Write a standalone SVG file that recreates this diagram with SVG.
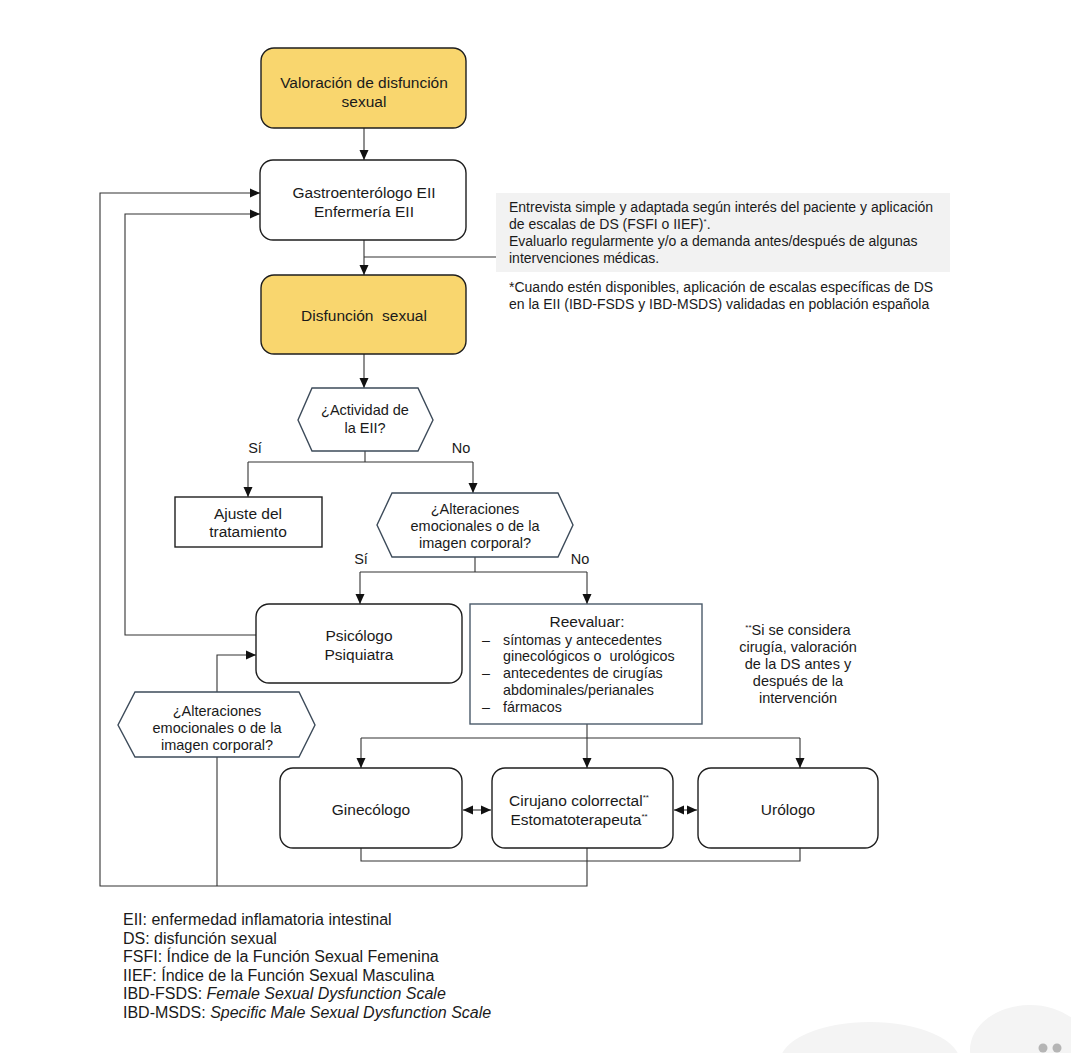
<svg xmlns="http://www.w3.org/2000/svg" width="1071" height="1053" viewBox="0 0 1071 1053">
<style>
text{font-family:"Liberation Sans",Arial,sans-serif;fill:#1a1a1a;white-space:pre;}
.t{font-size:15.5px;text-anchor:middle;}
.s{font-size:14px;}
.q{font-size:14.5px;text-anchor:middle;}
.r{font-size:14.3px;}
.lg{font-size:16px;}
.box{fill:#fff;stroke:#1e1e1e;stroke-width:1.4;}
.yel{fill:#f9d66e;stroke:#1e1e1e;stroke-width:1.4;}
.hex{fill:#fff;stroke:#3d4b5a;stroke-width:1.4;}
.con{fill:none;stroke:#333;stroke-width:1.1;}
.arr{marker-end:url(#ah);}
.dbl{marker-start:url(#ah);marker-end:url(#ah);}
</style>
<defs>
<marker id="ah" markerUnits="userSpaceOnUse" markerWidth="10" markerHeight="10" refX="10" refY="5" orient="auto-start-reverse">
<path d="M0,0.5 L10,5 L0,9.5 z" fill="#111"/>
</marker>
</defs>
<rect width="1071" height="1053" fill="#fff"/>
<g id="bg-deco" fill="#f4f4f4">
<ellipse cx="870" cy="1062" rx="90" ry="40"/>
<ellipse cx="1030" cy="1050" rx="60" ry="45"/>
<circle cx="1043" cy="1048" r="4.5" fill="#b5b5b5"/>
<circle cx="1057" cy="1048" r="4.5" fill="#b5b5b5"/>
</g>
<g id="connectors">
<path class="con arr" d="M364,128 V160"/>
<path class="con arr" d="M364,240 V275"/>
<path class="con" d="M496,257 H364"/>
<path class="con arr" d="M364,354 V388"/>
<path class="con" d="M365,451 V462 M248,462 H473"/>
<path class="con arr" d="M248,462 V497"/>
<path class="con arr" d="M473,462 V493"/>
<path class="con" d="M475,557 V572 M360,572 H587"/>
<path class="con arr" d="M360,572 V604"/>
<path class="con arr" d="M587,572 V604"/>
<path class="con" d="M587,724 V738 M361,738 H800"/>
<path class="con arr" d="M361,738 V768"/>
<path class="con arr" d="M587,738 V768"/>
<path class="con arr" d="M800,738 V768"/>
<path class="con dbl" d="M463,810 H491"/>
<path class="con dbl" d="M674,810 H697"/>
<path class="con" d="M361,848 V861 H800 V848"/>
<path class="con arr" d="M587,848 V886 H100 V193 H260"/>
<path class="con arr" d="M256,635 H125 V214 H260"/>
<path class="con arr" d="M217,692 V655 H256"/>
<path class="con" d="M217,757 V886"/>
</g>
<g id="n-valoracion">
<rect class="yel" x="261" y="48" width="205" height="80" rx="13"/>
<text class="t" x="364" y="88">Valoración de disfunción</text>
<text class="t" x="364" y="107">sexual</text>
</g>
<g id="n-gastro">
<rect class="box" x="260" y="160" width="206" height="80" rx="13"/>
<text class="t" x="364" y="198">Gastroenterólogo EII</text>
<text class="t" x="364" y="217">Enfermería EII</text>
</g>
<g id="n-note">
<rect x="496" y="193" width="454" height="79" fill="#f2f2f2"/>
<text class="s" x="509" y="212">Entrevista simple y adaptada según interés del paciente y aplicación</text>
<text class="s" x="509" y="229">de escalas de DS (FSFI o IIEF)<tspan font-size="8" dy="-5">*</tspan><tspan dy="5">.</tspan></text>
<text class="s" x="509" y="246">Evaluarlo regularmente y/o a demanda antes/después de algunas</text>
<text class="s" x="509" y="263">intervenciones médicas.</text>
<text class="s" x="509" y="292">*Cuando estén disponibles, aplicación de escalas específicas de DS</text>
<text class="s" x="509" y="309">en la EII (IBD-FSDS y IBD-MSDS) validadas en población española</text>
</g>
<g id="n-disfuncion">
<rect class="yel" x="261" y="275" width="205" height="79" rx="13"/>
<text class="t" x="364" y="321">Disfunción  sexual</text>
</g>
<g id="n-actividad">
<polygon class="hex" points="312,388 418,388 433,420 418,451 312,451 298,420"/>
<text class="q" x="365" y="415" font-size="12">¿Actividad de</text>
<text class="q" x="365" y="433" font-size="12">la EII?</text>
<text class="q" x="255" y="453">Sí</text>
<text class="q" x="461" y="453">No</text>
</g>
<g id="n-ajuste">
<rect class="box" x="175" y="497" width="147" height="50"/>
<text class="t" x="248" y="519" font-size="14">Ajuste del</text>
<text class="t" x="248" y="537" font-size="14">tratamiento</text>
</g>
<g id="n-alter1">
<polygon class="hex" points="392,493 558,493 573,525 558,557 392,557 377,525"/>
<text class="q" x="475" y="514">¿Alteraciones</text>
<text class="q" x="475" y="531">emocionales o de la</text>
<text class="q" x="475" y="548">imagen corporal?</text>
<text class="q" x="361" y="564">Sí</text>
<text class="q" x="580" y="564">No</text>
</g>
<g id="n-psico">
<rect class="box" x="256" y="604" width="206" height="79" rx="13"/>
<text class="t" x="359" y="641">Psicólogo</text>
<text class="t" x="359" y="660">Psiquiatra</text>
</g>
<g id="n-reevaluar">
<rect x="470" y="604" width="232" height="120" fill="#fff" stroke="#4a5a6a" stroke-width="1.4"/>
<text class="t" x="587" y="627" font-size="14.3">Reevaluar:</text>
<text class="r" x="482" y="645">–</text>
<text class="r" x="503" y="645">síntomas y antecedentes</text>
<text class="r" x="503" y="661">ginecológicos o  urológicos</text>
<text class="r" x="482" y="678">–</text>
<text class="r" x="503" y="678">antecedentes de cirugías</text>
<text class="r" x="503" y="695">abdominales/perianales</text>
<text class="r" x="482" y="712">–</text>
<text class="r" x="503" y="712">fármacos</text>
</g>
<g id="n-footnote2">
<text class="q" x="798" y="635" font-size="13.5"><tspan font-size="8" dy="-5">**</tspan><tspan dy="5">Si se considera</tspan></text>
<text class="q" x="798" y="652" font-size="13.5">cirugía, valoración</text>
<text class="q" x="798" y="669" font-size="13.5">de la DS antes y</text>
<text class="q" x="798" y="686" font-size="13.5">después de la</text>
<text class="q" x="798" y="703" font-size="13.5">intervención</text>
</g>
<g id="n-alter2">
<polygon class="hex" points="135,692 299,692 315,725 299,757 135,757 118,725"/>
<text class="q" x="217" y="716">¿Alteraciones</text>
<text class="q" x="217" y="733">emocionales o de la</text>
<text class="q" x="217" y="750">imagen corporal?</text>
</g>
<g id="n-gine">
<rect class="box" x="280" y="768" width="182" height="80" rx="13"/>
<text class="t" x="371" y="815">Ginecólogo</text>
</g>
<g id="n-cirujano">
<rect class="box" x="492" y="768" width="181" height="80" rx="13"/>
<text class="t" x="579" y="806">Cirujano colorrectal<tspan font-size="8" dy="-6">**</tspan></text>
<text class="t" x="579" y="825">Estomatoterapeuta<tspan font-size="8" dy="-6">**</tspan></text>
</g>
<g id="n-urologo">
<rect class="box" x="698" y="768" width="180" height="80" rx="13"/>
<text class="t" x="788" y="815">Urólogo</text>
</g>
<g id="legend">
<text class="lg" x="123" y="925">EII: enfermedad inflamatoria intestinal</text>
<text class="lg" x="123" y="944">DS: disfunción sexual</text>
<text class="lg" x="123" y="962">FSFI: Índice de la Función Sexual Femenina</text>
<text class="lg" x="123" y="981">IIEF: Índice de la Función Sexual Masculina</text>
<text class="lg" x="123" y="999">IBD-FSDS: <tspan font-style="italic">Female Sexual Dysfunction Scale</tspan></text>
<text class="lg" x="123" y="1018">IBD-MSDS: <tspan font-style="italic">Specific Male Sexual Dysfunction Scale</tspan></text>
</g>
</svg>
